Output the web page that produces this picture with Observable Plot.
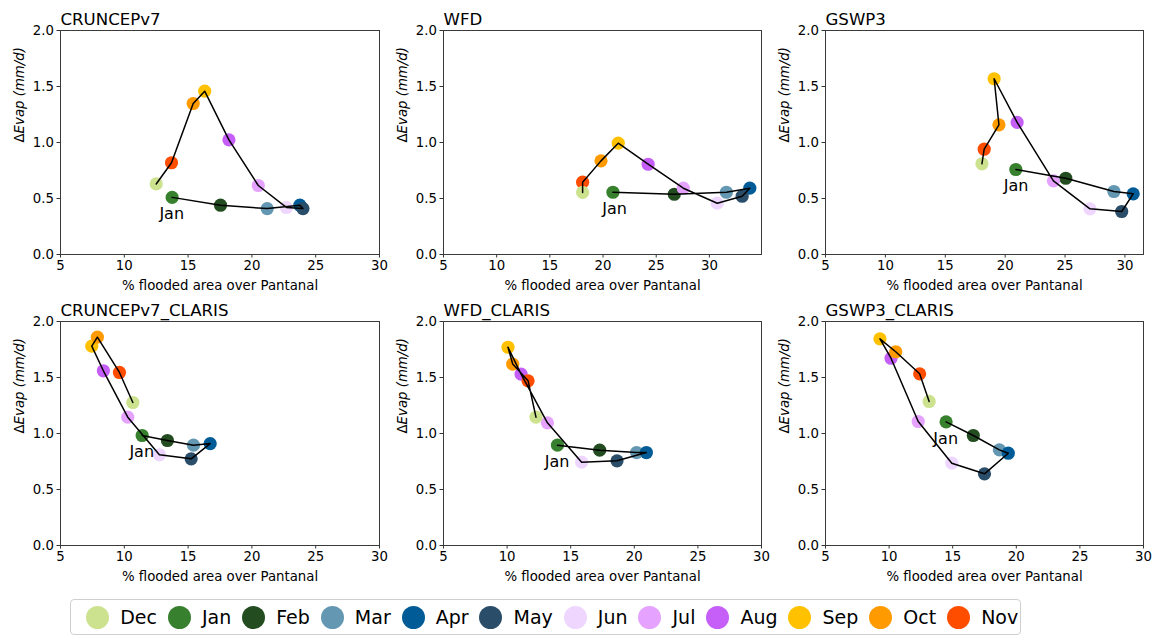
<!DOCTYPE html>
<html><head><meta charset="utf-8">
<script src="https://cdn.jsdelivr.net/npm/d3@7"></script>
<script src="https://cdn.jsdelivr.net/npm/@observablehq/plot@0.6"></script>
<style>
body{margin:0;background:#fff;font-family:"DejaVu Sans",sans-serif;}
#root{position:relative;width:1155px;height:635px;overflow:hidden;background:#fff;}
.panel{position:absolute;}
#legend{position:absolute;left:70px;top:599px;height:36px;width:951px;box-sizing:border-box;border:1px solid #cfcfcf;border-radius:4px;display:flex;align-items:center;padding:0 0 0 15px;}
.item{display:flex;align-items:center;margin-right:10.8px;}
.sw{width:23px;height:23px;border-radius:50%;margin-right:11.2px;}
.lab{font-size:19px;color:#000;white-space:nowrap;}
</style>
</head><body>
<div id="root"></div>
<script>
// ---- data ----
const months = ["Jan","Feb","Mar","Apr","May","Jun","Jul","Aug","Sep","Oct","Nov","Dec"];
const monthColors = ["#37802e","#234d20","#6497b1","#005b96","#2a4d69","#eed6ff","#e6a2ff","#c55ff7","#ffc100","#ff9a00","#ff4d00","#cde28f"];
const legendOrder = ["Dec","Jan","Feb","Mar","Apr","May","Jun","Jul","Aug","Sep","Oct","Nov"];

const panelTitles = ["CRUNCEPv7","WFD","GSWP3","CRUNCEPv7_CLARIS","WFD_CLARIS","GSWP3_CLARIS"];

const crunceX = [13.75, 17.54, 21.2, 23.76, 24.0, 22.7, 20.5, 18.2, 16.3, 15.4, 13.7, 12.5];
const crunceY = [0.51, 0.44, 0.41, 0.44, 0.41, 0.42, 0.616, 1.024, 1.458, 1.348, 0.819, 0.63];

const wfdX = [20.93, 26.7, 31.6, 33.8, 33.08, 30.74, 27.55, 24.24, 21.43, 19.81, 18.08, 18.08];
const wfdY = [0.556, 0.538, 0.556, 0.592, 0.52, 0.458, 0.592, 0.806, 0.994, 0.836, 0.646, 0.554];

const gswpX = [20.89, 25.06, 29.08, 30.69, 29.73, 27.08, 24.03, 21.0, 19.08, 19.48, 18.25, 18.06];
const gswpY = [0.759, 0.681, 0.5625, 0.542, 0.384, 0.408, 0.658, 1.179, 1.569, 1.158, 0.94, 0.81];

const crunceClarisX = [11.4, 13.38, 15.42, 16.73, 15.24, 12.75, 10.27, 8.36, 7.45, 7.89, 9.62, 10.67];
const crunceClarisY = [0.982, 0.9375, 0.896, 0.91, 0.774, 0.81, 1.146, 1.56, 1.78, 1.86, 1.545, 1.277];

const wfdClarisX = [13.96, 17.28, 20.18, 20.95, 18.64, 15.86, 13.17, 11.1, 10.07, 10.44, 11.65, 12.27];
const wfdClarisY = [0.896, 0.851, 0.83, 0.83, 0.756, 0.744, 1.095, 1.53, 1.77, 1.62, 1.47, 1.146];

const gswpClarisX = [14.48, 16.62, 18.67, 19.37, 17.5, 14.93, 12.29, 10.15, 9.28, 10.52, 12.4, 13.15];
const gswpClarisY = [1.104, 0.982, 0.854, 0.824, 0.64, 0.735, 1.107, 1.672, 1.845, 1.73, 1.533, 1.286];

const xMaxes = [30, 34.9, 31.55, 30, 30, 30];
const xTicks = [5, 10, 15, 20, 25, 30];
const yTicks = [0, 0.5, 1.0, 1.5, 2.0];

const xLabel = "% flooded area over Pantanal";
const janLabel = "Jan";

// ---- layout ----
const seriesX = [crunceX, wfdX, gswpX, crunceClarisX, wfdClarisX, gswpClarisX];
const seriesY = [crunceY, wfdY, gswpY, crunceClarisY, wfdClarisY, gswpClarisY];
const colLeft = [60, 443, 825], colRight = [379, 761, 1143];
const rowTop = [30, 321];
const frameH = 224;
const mL = 60, mR = 12, mT = 30, mB = 50;

const root = document.getElementById("root");

for (let i = 0; i < 6; i++) {
  const c = i % 3, r = Math.floor(i / 3);
  const w = colRight[c] - colLeft[c];
  const data = months.map((m, k) => ({month: m, x: seriesX[i][k], y: seriesY[i][k]}));
  const jan = data.filter(d => d.month === "Jan");
  const svg = Plot.plot({
    width: mL + w + mR,
    height: mT + frameH + mB,
    marginLeft: mL, marginRight: mR, marginTop: mT, marginBottom: mB,
    style: {fontFamily: "DejaVu Sans, sans-serif", fontSize: "13.3px", color: "#000", background: "transparent", overflow: "visible"},
    x: {domain: [5, xMaxes[i]]},
    y: {domain: [0, 2]},
    color: {domain: months, range: monthColors},
    marks: [
      Plot.dot(data, {x: "x", y: "y", fill: "month", r: 6.6}),
      Plot.line(data, {x: "x", y: "y", stroke: "#000", strokeWidth: 1.5}),
      Plot.text(jan, {x: d => d.x - 1, y: d => d.y - 0.15, text: () => janLabel, textAnchor: "start", lineAnchor: "middle", fontSize: 16, fill: "#000"}),
      Plot.axisX({ticks: xTicks, tickSize: 3.5, tickPadding: 3, label: null, stroke: "#333"}),
      Plot.axisY({ticks: yTicks, tickSize: 3.5, tickPadding: 3, tickFormat: d3.format(".1f"), label: null, stroke: "#333"}),
      Plot.frame({stroke: "#3a3a3a"}),
      Plot.text([panelTitles[i]], {frameAnchor: "top-left", dy: -5.7, textAnchor: "start", lineAnchor: "bottom", fontSize: 16.6, fill: "#000"}),
      Plot.text([xLabel], {frameAnchor: "bottom", dy: 35, lineAnchor: "bottom", fontSize: 13.3, fill: "#000"}),
      Plot.text(["ΔEvap (mm/d)"], {frameAnchor: "left", dx: -41, rotate: -90, lineAnchor: "middle", fontSize: 13.3, fill: "#000", className: "ylab"})
    ]
  });
  const yl = svg.querySelector(".ylab text");
  if (yl) yl.innerHTML = 'Δ<tspan font-style="italic">Evap (mm/d)</tspan>';
  const div = document.createElement("div");
  div.className = "panel";
  div.style.left = (colLeft[c] - mL) + "px";
  div.style.top = (rowTop[r] - mT) + "px";
  div.appendChild(svg);
  root.appendChild(div);
}

// ---- legend ----
const leg = document.createElement("div");
leg.id = "legend";
legendOrder.forEach(m => {
  const it = document.createElement("div");
  it.className = "item";
  const sw = document.createElement("div");
  sw.className = "sw";
  sw.style.background = monthColors[months.indexOf(m)];
  const lb = document.createElement("span");
  lb.className = "lab";
  lb.textContent = m;
  it.appendChild(sw); it.appendChild(lb);
  leg.appendChild(it);
});
root.appendChild(leg);
</script>
</body></html>
